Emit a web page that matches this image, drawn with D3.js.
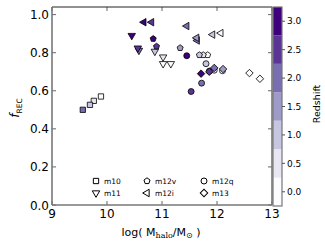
<!DOCTYPE html>
<html><head><meta charset="utf-8">
<script src="https://cdn.jsdelivr.net/npm/d3@7"></script>
<style>body{margin:0;background:#fff}svg{display:block}text{font-family:"DejaVu Sans",sans-serif}</style>
</head><body><svg id="c" width="325" height="244"></svg>
<script>
// ---- data ----
const m10Mass = [9.89, 9.76, 9.69, 9.56];
const m10Frec = [0.570, 0.547, 0.526, 0.500];
const m10Z    = [0.0, 0.5, 1.0, 2.0];

const m11Mass = [11.16, 11.02, 11.02, 10.87, 10.58, 10.56, 10.45];
const m11Frec = [0.742, 0.742, 0.777, 0.807, 0.812, 0.824, 0.890];
const m11Z    = [0.0, 0.0, 0.5, 1.0, 2.0, 2.5, 3.0];

const m12iMass = [12.07, 11.92, 11.64, 11.63, 11.45, 10.81, 10.67];
const m12iFrec = [0.903, 0.895, 0.864, 0.878, 0.940, 0.960, 0.960];
const m12iZ    = [0.0, 1.0, 2.0, 1.5, 2.0, 2.5, 3.0];

const m12vMass = [11.83, 11.75, 11.68, 11.33, 10.90, 10.84];
const m12vFrec = [0.788, 0.788, 0.788, 0.825, 0.833, 0.873];
const m12vZ    = [0.0, 0.5, 1.0, 1.5, 2.5, 3.0];

const m12qMass = [12.10, 11.95, 11.80, 11.86, 11.72, 11.53, 11.45];
const m12qFrec = [0.705, 0.708, 0.742, 0.703, 0.640, 0.596, 0.784];
const m12qZ    = [0.0, 0.5, 1.0, 2.0, 2.0, 2.5, 3.0];

const m13Mass = [12.78, 12.59, 12.11, 11.95, 11.86, 11.71];
const m13Frec = [0.663, 0.693, 0.714, 0.720, 0.700, 0.690];
const m13Z    = [0.0, 0.0, 1.5, 2.0, 2.5, 3.0];

const xTicks = [9, 10, 11, 12, 13];
const yTicks = [0.0, 0.2, 0.4, 0.6, 0.8, 1.0];
const zTicks = [0.0, 0.5, 1.0, 1.5, 2.0, 2.5, 3.0];
const zBands = [0.0, 0.5, 1.0, 1.5, 2.0, 2.5, 3.0];

const legendNames = ["m10", "m11", "m12v", "m12i", "m12q", "m13"];

// ---- setup ----
const svg = d3.select("#c");
const L = 52, R = 272, T = 7, B = 205;
const x = d3.scaleLinear().domain([9, 13]).range([L, R]);
const y = d3.scaleLinear().domain([0, 1.04]).range([B, T]);
const zc = d3.scaleLinear().domain([-0.25, 3.25]).range([206, 7]);
const colorOf = z => d3.interpolatePurples(Math.max(0, Math.min(1, z / 3)));

const shapes = {
  m10:  {type: d3.symbolSquare, size: 28, rot: 0},
  m11:  {type: d3.symbolTriangle, size: 24, rot: 180},
  m12v: {type: "pent", size: 24, rot: 0},
  m12i: {type: d3.symbolTriangle, size: 24, rot: -90},
  m12q: {type: d3.symbolCircle, size: 28, rot: 0},
  m13:  {type: d3.symbolSquare, size: 28, rot: 45}
};
function pentPath(size) {
  const r = Math.sqrt(size / 2.378);
  let p = "";
  for (let i = 0; i < 5; i++) {
    const a = -Math.PI / 2 + i * 2 * Math.PI / 5;
    p += (i ? "L" : "M") + (r * Math.cos(a)).toFixed(2) + "," + (r * Math.sin(a)).toFixed(2);
  }
  return p + "Z";
}
function symPath(name) {
  const s = shapes[name];
  if (s.type === "pent") return pentPath(s.size);
  return d3.symbol().type(s.type).size(s.size)();
}

// ---- axes frame & ticks ----
const g = svg.append("g");
const tickCol = "#666";
g.selectAll(".xt").data(xTicks).join("line")
  .attr("x1", d => x(d)).attr("x2", d => x(d)).attr("y1", B).attr("y2", B - 4)
  .attr("stroke", tickCol).attr("stroke-width", 1);
g.selectAll(".xtt").data(xTicks).join("line")
  .attr("x1", d => x(d)).attr("x2", d => x(d)).attr("y1", T).attr("y2", T + 4)
  .attr("stroke", tickCol).attr("stroke-width", 1);
g.selectAll(".yt").data(yTicks).join("line")
  .attr("x1", L).attr("x2", L + 4).attr("y1", d => y(d)).attr("y2", d => y(d))
  .attr("stroke", tickCol).attr("stroke-width", 1);
g.selectAll(".ytr").data(yTicks).join("line")
  .attr("x1", R).attr("x2", R - 4).attr("y1", d => y(d)).attr("y2", d => y(d))
  .attr("stroke", tickCol).attr("stroke-width", 1);
g.selectAll(".xl").data(xTicks).join("text")
  .attr("x", d => x(d)).attr("y", B + 13).attr("text-anchor", "middle")
  .attr("font-size", 12).attr("fill", "#000").text(d => d);
g.selectAll(".yl").data(yTicks).join("text")
  .attr("x", L - 3).attr("y", d => y(d) + 4.5).attr("text-anchor", "end")
  .attr("font-size", 12).attr("fill", "#000").text(d => d.toFixed(1));

// ---- data points ----
const series = [
  ["m10", m10Mass, m10Frec, m10Z],
  ["m11", m11Mass, m11Frec, m11Z],
  ["m12i", m12iMass, m12iFrec, m12iZ],
  ["m12v", m12vMass, m12vFrec, m12vZ],
  ["m12q", m12qMass, m12qFrec, m12qZ],
  ["m13", m13Mass, m13Frec, m13Z]
];
const pts = g.append("g");
series.forEach(([name, ms, fs, zs]) => {
  const data = ms.map((m, i) => ({m, f: fs[i], z: zs[i]}));
  pts.selectAll(null).data(data).join("path")
    .attr("d", symPath(name))
    .attr("transform", d => `translate(${x(d.m)},${y(d.f)}) rotate(${shapes[name].rot})`)
    .attr("fill", d => colorOf(d.z)).attr("stroke", "#000").attr("stroke-width", 0.8);
});

// spines
g.append("line").attr("x1", L).attr("x2", R).attr("y1", T).attr("y2", T).attr("stroke", "#222").attr("stroke-width", 1);
g.append("line").attr("x1", L).attr("x2", L).attr("y1", T).attr("y2", B).attr("stroke", "#777").attr("stroke-width", 1.6);
g.append("line").attr("x1", L).attr("x2", R).attr("y1", B).attr("y2", B).attr("stroke", "#777").attr("stroke-width", 1.6);
g.append("line").attr("x1", R).attr("x2", R).attr("y1", T).attr("y2", B).attr("stroke", "#777").attr("stroke-width", 1.6);

// ---- legend ----
const legPos = [[96, 181], [96, 193], [147, 181], [147, 193], [204, 181], [204, 193]];
legendNames.forEach((n, i) => {
  const [lx, ly] = legPos[i];
  g.append("path").attr("d", symPath(n))
    .attr("transform", `translate(${lx},${ly}) rotate(${shapes[n].rot})`)
    .attr("fill", "#fff").attr("stroke", "#000").attr("stroke-width", 1);
  g.append("text").attr("x", lx + 8).attr("y", ly + 3).attr("font-size", 7.5).text(n);
});

// ---- axis labels ----
const xl = g.append("text").attr("x", 161).attr("y", 236).attr("text-anchor", "middle").attr("font-size", 11);
xl.append("tspan").text("log( M");
xl.append("tspan").attr("font-size", 8).attr("font-family", "DejaVu Serif").attr("dy", 2).text("halo");
xl.append("tspan").attr("dy", -2).text("/M");
xl.append("tspan").attr("font-size", 8).attr("dy", 2).text("⊙");
xl.append("tspan").attr("dy", -2).text(" )");

const yl = g.append("text").attr("transform", "translate(19,108) rotate(-90)").attr("text-anchor", "middle")
  .attr("font-family", "DejaVu Serif").attr("font-size", 12);
yl.append("tspan").attr("font-style", "italic").text("f");
yl.append("tspan").attr("font-size", 7.5).attr("dy", 2.5).text("REC");

// ---- colorbar ----
const cb = svg.append("g");
const CL = 273, CW = 9;
cb.selectAll("rect").data(zBands).join("rect")
  .attr("x", CL).attr("width", CW)
  .attr("y", d => zc(d + 0.25)).attr("height", d => zc(d - 0.25) - zc(d + 0.25))
  .attr("fill", d => colorOf(d));
cb.append("rect").attr("x", CL).attr("y", zc(3.25)).attr("width", CW).attr("height", zc(-0.25) - zc(3.25))
  .attr("fill", "none").attr("stroke", "#777").attr("stroke-width", 1.2);
cb.selectAll(".ct").data(zTicks).join("line")
  .attr("x1", CL + CW).attr("x2", CL + CW + 3).attr("y1", d => zc(d)).attr("y2", d => zc(d))
  .attr("stroke", "#555");
cb.selectAll(".cl").data(zTicks).join("text")
  .attr("x", CL + CW + 5).attr("y", d => zc(d) + 3.2).attr("font-size", 9).text(d => d.toFixed(1));
cb.append("text").attr("transform", "translate(320,104) rotate(-90)").attr("text-anchor", "middle")
  .attr("font-size", 9.5).text("Redshift");
</script></body></html>
